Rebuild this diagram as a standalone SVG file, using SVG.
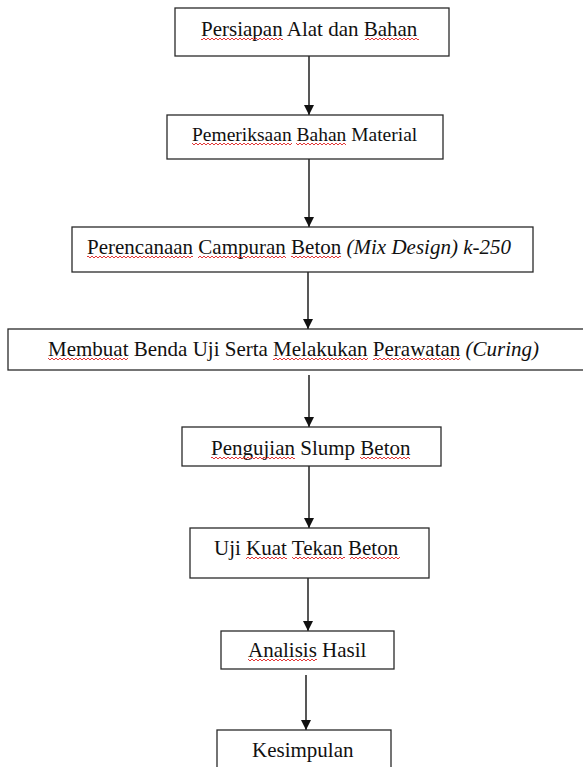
<svg xmlns="http://www.w3.org/2000/svg" width="583" height="767" viewBox="0 0 583 767">
<style>
.box{fill:#fff;stroke:#2a2a2a;stroke-width:1.3}
.t{font-family:"Liberation Serif","Times New Roman",serif;font-size:21px;fill:#111}
.i{font-style:italic}
.ln{stroke:#111;stroke-width:1.4;fill:none;marker-end:url(#ah)}
.sq{fill:url(#wave)}
</style>
<defs>
<marker id="ah" markerUnits="userSpaceOnUse" markerWidth="12" markerHeight="12" refX="10" refY="5" orient="auto">
<path d="M0,0 L10,5 L0,10 Z" fill="#111"/>
</marker>
<pattern id="wave" patternUnits="userSpaceOnUse" width="4" height="4">
<path d="M0 1 L2 3 L4 1" stroke="#e02020" stroke-width="0.9" fill="none"/>
</pattern>
</defs>
<rect width="583" height="767" fill="#fff"/>
<g id="connectors">
<line class="ln" x1="309" y1="56" x2="309" y2="115"/>
<line class="ln" x1="309" y1="159" x2="309" y2="227"/>
<line class="ln" x1="308" y1="272" x2="308" y2="329"/>
<line class="ln" x1="309" y1="375" x2="309" y2="427"/>
<line class="ln" x1="309" y1="466" x2="309" y2="528"/>
<line class="ln" x1="308" y1="578" x2="308" y2="631"/>
<line class="ln" x1="306" y1="675" x2="306" y2="730"/>
</g>
<g id="n1">
<rect class="box" x="175" y="8" width="274" height="48"/>
<text class="t" x="201" y="36">Persiapan Alat dan Bahan</text>
<rect class="sq" x="201" y="0" width="82" height="4" transform="translate(0,37)"/>
<rect class="sq" x="365" y="0" width="54" height="4" transform="translate(0,37)"/>
</g>
<g id="n2">
<rect class="box" x="167" y="115" width="276" height="44"/>
<text class="t" x="192" y="141" style="font-size:19.5px">Pemeriksaan Bahan Material</text>
<rect class="sq" x="192" y="0" width="100" height="4" transform="translate(0,142)"/>
<rect class="sq" x="296" y="0" width="50" height="4" transform="translate(0,142)"/>
</g>
<g id="n3">
<rect class="box" x="72" y="227" width="461" height="45"/>
<text class="t" x="87" y="254">Perencanaan Campuran Beton <tspan class="i">(Mix Design) k-250</tspan></text>
<rect class="sq" x="87" y="0" width="106" height="4" transform="translate(0,255)"/>
<rect class="sq" x="198" y="0" width="88" height="4" transform="translate(0,255)"/>
<rect class="sq" x="291" y="0" width="50" height="4" transform="translate(0,255)"/>
</g>
<g id="n4">
<rect class="box" x="8" y="329" width="590" height="41"/>
<text class="t" x="48" y="356">Membuat Benda Uji Serta Melakukan Perawatan <tspan class="i">(Curing)</tspan></text>
<rect class="sq" x="48" y="0" width="80" height="4" transform="translate(0,357)"/>
<rect class="sq" x="273" y="0" width="95" height="4" transform="translate(0,357)"/>
<rect class="sq" x="373" y="0" width="87" height="4" transform="translate(0,357)"/>
</g>
<g id="n5">
<rect class="box" x="182" y="427" width="259" height="39"/>
<text class="t" x="211" y="455">Pengujian Slump Beton</text>
<rect class="sq" x="211" y="0" width="84" height="4" transform="translate(0,456)"/>
<rect class="sq" x="360" y="0" width="50" height="4" transform="translate(0,456)"/>
</g>
<g id="n6">
<rect class="box" x="190" y="528" width="239" height="50"/>
<text class="t" x="214" y="555">Uji Kuat Tekan Beton</text>
<rect class="sq" x="246" y="0" width="41" height="4" transform="translate(0,556)"/>
<rect class="sq" x="292" y="0" width="53" height="4" transform="translate(0,556)"/>
<rect class="sq" x="350" y="0" width="50" height="4" transform="translate(0,556)"/>
</g>
<g id="n7">
<rect class="box" x="221" y="631" width="173" height="38"/>
<text class="t" x="248" y="657">Analisis Hasil</text>
<rect class="sq" x="248" y="0" width="69" height="4" transform="translate(0,658)"/>
</g>
<g id="n8">
<rect class="box" x="217" y="730" width="174" height="50"/>
<text class="t" x="252" y="757">Kesimpulan</text>
</g>
</svg>
